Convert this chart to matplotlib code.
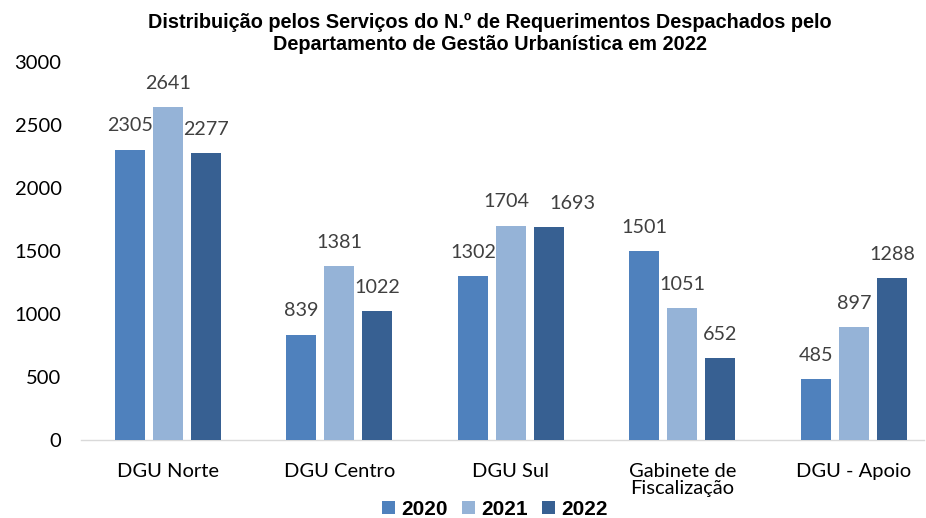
import numpy as np
import matplotlib.pyplot as plt

categories = ["DGU Norte", "DGU Centro", "DGU Sul", "Gabinete de\nFiscalização", "DGU - Apoio"]
years = ["2020", "2021", "2022"]
v2020 = [2305, 839, 1302, 1501, 485]
v2021 = [2641, 1381, 1704, 1051, 897]
v2022 = [2277, 1022, 1693, 652, 1288]
colors = ["#4F81BD", "#95B3D7", "#376092"]

fig = plt.figure(figsize=(9.26, 5.18), dpi=100)
ax = fig.add_axes([0.0875, 0.15, 0.9105, 0.73])

x = np.arange(len(categories))
width = 0.175
step = 0.2216
label_sets = []
for i, (vals, yr) in enumerate(zip([v2020, v2021, v2022], years)):
    bars = ax.bar(x + (i - 1) * step, vals, width, color=colors[i], label=yr, zorder=3)
    label_sets.append(ax.bar_label(bars, padding=11, fontsize=14.2, color="#404040", family="Lato"))

# Excel nudged the crowded DGU Sul labels apart
label_sets[1][2].xyann = (-3.5, 11)
label_sets[2][2].xyann = (17, 11)

ax.set_ylim(0, 3000)
ax.set_xlim(-0.507, 4.41)
ax.set_yticks(range(0, 3001, 500))
ax.set_xticks(x)
ax.set_xticklabels(categories, linespacing=1.0)
for lab in ax.get_xticklabels() + ax.get_yticklabels():
    lab.set_family("Lato")
    lab.set_fontsize(14.5)
    lab.set_color("#000000")
ax.tick_params(axis="y", length=0, pad=14)
ax.tick_params(axis="x", length=0, pad=16)
for name, s in ax.spines.items():
    s.set_visible(name == "bottom")
ax.spines["bottom"].set_color("#D9D9D9")
ax.spines["bottom"].set_linewidth(1.0)

fig.text(0.529, 0.976,
         "Distribuição pelos Serviços do N.º de Requerimentos Despachados pelo\n"
         "Departamento de Gestão Urbanística em 2022",
         ha="center", va="top", fontsize=14.3, fontweight="bold",
         family="Liberation Sans", linespacing=1.2)

ax.legend(loc="center", bbox_to_anchor=(0.491, -0.183), ncol=3, frameon=False,
          prop={"family": "Liberation Sans", "weight": "bold", "size": 15},
          handlelength=0.6, handleheight=0.6, handletextpad=0.3, columnspacing=0.7,
          borderpad=0)

fig.savefig("out.png", dpi=100)
